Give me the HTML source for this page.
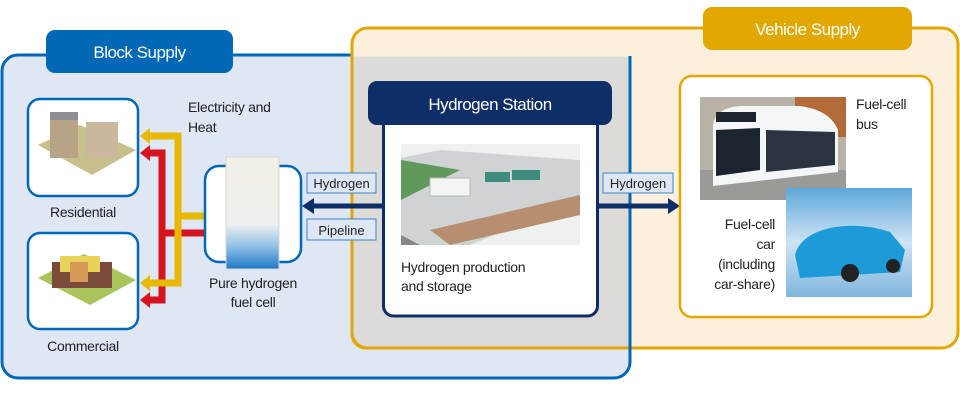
<!DOCTYPE html>
<html><head><meta charset="utf-8"><style>
html,body{margin:0;padding:0;background:#fff;}
svg{display:block;font-family:"Liberation Sans",sans-serif;}
</style></head><body>
<svg width="960" height="400" viewBox="0 0 960 400" xmlns="http://www.w3.org/2000/svg">
<defs>
<linearGradient id="fc" x1="0" y1="0" x2="0" y2="1">
<stop offset="0" stop-color="#f1f0e6"/><stop offset="0.6" stop-color="#eef0ee"/><stop offset="0.8" stop-color="#8fc0e6"/><stop offset="1" stop-color="#1f78c8"/></linearGradient>
<linearGradient id="sky" x1="0" y1="0" x2="0" y2="1"><stop offset="0" stop-color="#5ea8dc"/><stop offset="0.5" stop-color="#cfe3f3"/><stop offset="1" stop-color="#7fb5de"/></linearGradient>
</defs>
<rect x="2" y="55" width="628" height="323" rx="16" fill="#dfe6f4" stroke="#0068b7" stroke-width="3"/>
<rect x="352" y="28" width="606" height="320" rx="16" fill="#fcf0dc" stroke="#e0a800" stroke-width="3"/>
<path d="M353.5 56.5 H628.5 V346.5 H368 A14 14 0 0 1 353.5 332 Z" fill="#dcdbd8"/>
<path d="M352 45 V334 A14 14 0 0 0 366 348 H630" fill="none" stroke="#e0a800" stroke-width="3"/>
<line x1="630" y1="56" x2="630" y2="363" stroke="#0068b7" stroke-width="3"/>
<rect x="46" y="30" width="187" height="43" rx="9" fill="#0068b7"/>
<text x="139.5" y="58" text-anchor="middle" font-size="17" fill="#fff" letter-spacing="-0.5">Block Supply</text>
<rect x="703" y="7" width="209" height="43" rx="9" fill="#e0a800"/>
<text x="807.5" y="35" text-anchor="middle" font-size="17" fill="#fff" letter-spacing="-0.5">Vehicle Supply</text>

<rect x="28" y="99" width="110" height="97" rx="12" fill="#fff" stroke="#0068b7" stroke-width="2.5"/>
<rect x="28" y="233" width="110" height="96" rx="12" fill="#fff" stroke="#0068b7" stroke-width="2.5"/>
<polygon points="38,145 80,125 136,150 92,175" fill="#c7c08c"/>
<rect x="50" y="118" width="28" height="40" fill="#b9a387"/>
<rect x="86" y="122" width="32" height="36" fill="#c9b79e"/>
<rect x="50" y="112" width="28" height="8" fill="#8d8f96"/>
<polygon points="38,278 84,254 136,280 90,305" fill="#a8c45a"/>
<rect x="52" y="262" width="60" height="26" fill="#7a4a3a"/>
<rect x="60" y="256" width="40" height="16" fill="#e7d357"/>
<rect x="70" y="262" width="18" height="20" fill="#d79a56"/>
<text x="83" y="217" text-anchor="middle" font-size="14" fill="#222" letter-spacing="-0.3">Residential</text>
<text x="83" y="351" text-anchor="middle" font-size="14" fill="#222" letter-spacing="-0.3">Commercial</text>

<g fill="none" stroke-width="7">
<path d="M204 233 H162 V153 H148" stroke="#d7141d"/>
<path d="M162 233 V300 H148" stroke="#d7141d"/>
<path d="M204 216 H178 V136 H148" stroke="#e6b800"/>
<path d="M178 216 V283 H148" stroke="#e6b800"/>
</g>
<polygon points="140,136 150,128 150,144" fill="#e6b800"/>
<polygon points="140,283 150,275 150,291" fill="#e6b800"/>
<polygon points="140,153 150,145 150,161" fill="#d7141d"/>
<polygon points="140,300 150,292 150,308" fill="#d7141d"/>
<text x="188" y="112" font-size="14" fill="#222" letter-spacing="-0.3">Electricity and</text>
<text x="188" y="132" font-size="14" fill="#222" letter-spacing="-0.3">Heat</text>

<rect x="205" y="166" width="96" height="96" rx="14" fill="#fff" stroke="#0068b7" stroke-width="2.5"/>
<rect x="226" y="157" width="53" height="112" fill="url(#fc)" stroke="#d8d6cc"/>
<text x="253" y="288" text-anchor="middle" font-size="14" fill="#222" letter-spacing="-0.3">Pure hydrogen</text>
<text x="253" y="307" text-anchor="middle" font-size="14" fill="#222" letter-spacing="-0.3">fuel cell</text>

<line x1="312" y1="206" x2="384" y2="206" stroke="#0f2d66" stroke-width="5"/>
<polygon points="302,206 314,198 314,214" fill="#0f2d66"/>
<line x1="598" y1="206" x2="672" y2="206" stroke="#0f2d66" stroke-width="5"/>
<polygon points="680,206 668,198 668,214" fill="#0f2d66"/>
<g font-size="13" fill="#222">
<rect x="307" y="173" width="69" height="20" fill="#dfe6f4" stroke="#3a86cc"/>
<text x="341.5" y="188" text-anchor="middle">Hydrogen</text>
<rect x="307" y="219" width="69" height="21" fill="#dfe6f4" stroke="#3a86cc"/>
<text x="341.5" y="235" text-anchor="middle">Pipeline</text>
<rect x="603" y="173" width="70" height="20" fill="#dfe6f4" stroke="#3a86cc"/>
<text x="638" y="188" text-anchor="middle">Hydrogen</text>
</g>

<rect x="383.5" y="110" width="214" height="206" rx="10" fill="#fff" stroke="#0f2d66" stroke-width="3"/>
<rect x="368" y="81" width="244" height="44" rx="9" fill="#0f2d66"/>
<text x="490" y="110" text-anchor="middle" font-size="17" fill="#fff" letter-spacing="-0.5">Hydrogen Station</text>
<rect x="401" y="144" width="179" height="101" fill="#eef1ef"/>
<polygon points="401,158 440,150 580,160 580,200 470,245 401,245" fill="#cfd3d3"/>
<polygon points="401,160 460,170 401,200" fill="#5f9a5b"/>
<polygon points="430,230 580,195 580,215 450,245" fill="#b88e70"/>
<polygon points="401,235 420,245 401,245" fill="#888"/>
<rect x="430" y="178" width="40" height="18" fill="#f4f4f4" stroke="#bbb"/>
<rect x="485" y="172" width="25" height="10" fill="#3e8d7c"/>
<rect x="512" y="170" width="28" height="10" fill="#3e8d7c"/>
<text x="401" y="272" font-size="14" fill="#222" letter-spacing="-0.3">Hydrogen production</text>
<text x="401" y="291" font-size="14" fill="#222" letter-spacing="-0.3">and storage</text>

<rect x="680" y="76" width="252" height="241" rx="12" fill="#fff" stroke="#e0a800" stroke-width="2.5"/>
<rect x="700" y="97" width="146" height="103" fill="#b9b2a6"/>
<rect x="700" y="170" width="146" height="30" fill="#9a9a98"/>
<rect x="795" y="97" width="51" height="40" fill="#b46b3a"/>
<path d="M713 125 Q715 108 740 106 L800 106 Q830 110 838 130 L838 172 L713 186 Z" fill="#f4f5f6"/>
<path d="M716 130 L760 128 L760 170 L716 176 Z" fill="#1c2430"/>
<path d="M766 130 L835 132 L835 165 L766 172 Z" fill="#2a3440"/>
<rect x="716" y="112" width="40" height="10" fill="#1c2430"/>
<rect x="786" y="188" width="126" height="109" fill="url(#sky)"/>
<path d="M795 255 Q800 235 830 228 Q860 222 890 232 L905 250 L900 272 L800 278 Z" fill="#1d9ad8"/>
<circle cx="850" cy="273" r="9" fill="#222"/><circle cx="893" cy="266" r="7" fill="#222"/>
<text x="856" y="109" font-size="14" fill="#222" letter-spacing="-0.3">Fuel-cell</text>
<text x="856" y="129" font-size="14" fill="#222" letter-spacing="-0.3">bus</text>
<g font-size="14" fill="#222" text-anchor="end" letter-spacing="-0.3">
<text x="775" y="229">Fuel-cell</text>
<text x="775" y="249">car</text>
<text x="775" y="269">(including</text>
<text x="775" y="289">car-share)</text>
</g>
</svg>
</body></html>
